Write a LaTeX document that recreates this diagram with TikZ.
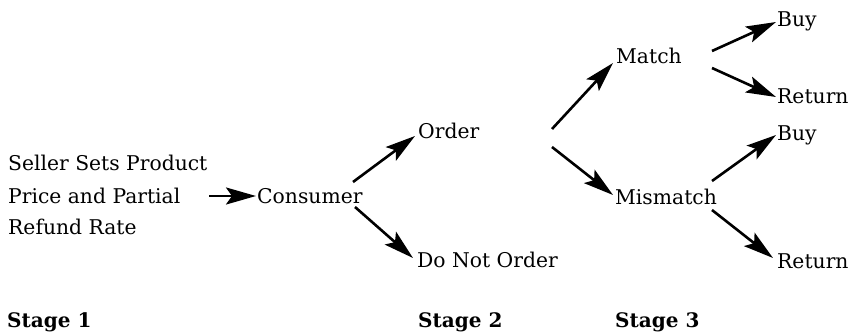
\documentclass[tikz,border=0pt]{standalone}
\usepackage{fontspec}
\setmainfont{DejaVu Serif}
\usetikzlibrary{arrows.meta}
\begin{document}
\begin{tikzpicture}[x=1pt,y=-1pt,
  lbl/.style={inner sep=0pt,anchor=base west,font=\fontsize{20.3}{24}\selectfont},
  stagelbl/.style={inner sep=0pt,anchor=base west,font=\fontsize{20}{24}\selectfont\bfseries},
  arr/.style={line width=2.6pt,-{Stealth[length=30pt,width=17pt,inset=6pt]}}]
\useasboundingbox (0,0) rectangle (853,334);
% nodes
\node[lbl] (s1) at (8,170) {Seller Sets Product};
\node[lbl] (s2) at (8,203) {Price and Partial};
\node[lbl] (s3) at (8,234) {Refund Rate};
\node[lbl] (consumer) at (257,203) {Consumer};
\node[lbl] (order) at (418,139) {Order};
\node[lbl] (dno) at (417,267) {Do Not Order};
\node[lbl] (match) at (616,64) {Match};
\node[lbl] (mismatch) at (615,204) {Mismatch};
\node[lbl] (buy1) at (777,27) {Buy};
\node[lbl] (ret1) at (777,103) {Return};
\node[lbl] (buy2) at (777,140) {Buy};
\node[lbl] (ret2) at (777,268) {Return};
\node[stagelbl] (st1) at (7,327) {Stage 1};
\node[stagelbl] (st2) at (418,327) {Stage 2};
\node[stagelbl] (st3) at (615,327) {Stage 3};
% connectors
\draw[arr] ([shift={(201,-7)}]s2.base west) -- ([shift={(-1,-7)}]consumer.base west);
\draw[arr] ([shift={(96,-21)}]consumer.base west) -- ([shift={(-3,-3)}]order.base west);
\draw[arr] ([shift={(98,4)}]consumer.base west) -- ([shift={(-4,-9)}]dno.base west);
\draw[arr] ([shift={(134,-10)}]order.base west) -- ([shift={(-3,-1)}]match.base west);
\draw[arr] ([shift={(134,8)}]order.base west) -- ([shift={(-2,-9)}]mismatch.base west);
\draw[arr] ([shift={(96,-13)}]match.base west) -- ([shift={(-1,-5)}]buy1.base west);
\draw[arr] ([shift={(96,4)}]match.base west) -- ([shift={(-1,-6)}]ret1.base west);
\draw[arr] ([shift={(97,-23)}]mismatch.base west) -- ([shift={(-1,-5)}]buy2.base west);
\draw[arr] ([shift={(97,6)}]mismatch.base west) -- ([shift={(-4,-10)}]ret2.base west);
\end{tikzpicture}
\end{document}
